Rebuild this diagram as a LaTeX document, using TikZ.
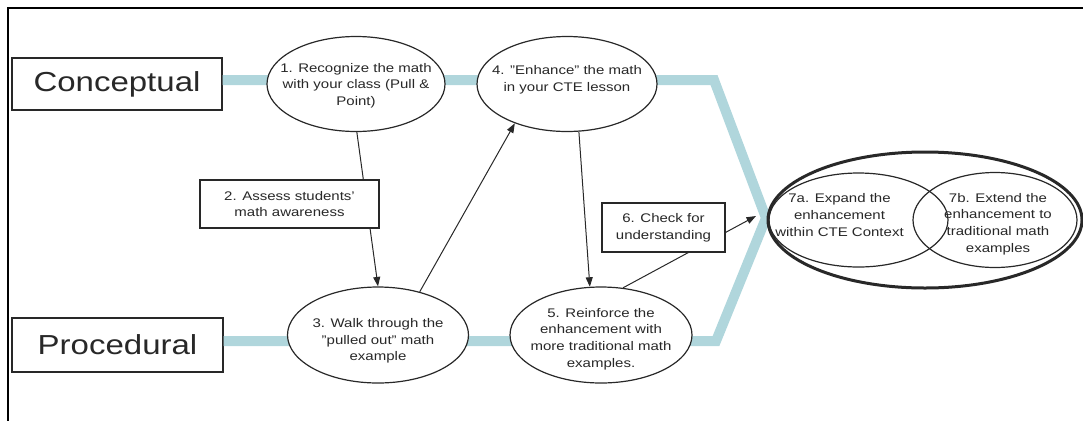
\documentclass[tikz,border=0pt]{standalone}
\usepackage{fontspec}
\setmainfont{Liberation Sans}[FakeStretch=1.2]
\usetikzlibrary{shapes.geometric,arrows.meta}
\definecolor{band}{RGB}{176,214,220}
\definecolor{ink}{RGB}{40,40,40}
\begin{document}
\begin{tikzpicture}[x=1pt,y=-1pt,
  txt/.style={font=\fontsize{12.5}{16.7}\selectfont, align=center, text=ink},
  oval/.style={ellipse, draw=ink, line width=1.2pt, fill=white, inner sep=0pt},
  ring/.style={ellipse, draw=ink, line width=1.2pt, inner sep=0pt},
  box/.style={rectangle, draw=ink, line width=1.2pt, fill=white, inner sep=0pt, txt},
  bigbox/.style={rectangle, draw=ink, line width=1.3pt, fill=white, inner sep=0pt, font=\fontsize{27.5}{30}\selectfont, text=ink},
  arr/.style={draw=ink, line width=1pt, -{Triangle[length=9.5pt,width=7pt]}},
  bandline/.style={draw=band, line width=10pt, line join=miter}
]
\useasboundingbox (0,0) rectangle (1083,421);
\draw[line width=2pt] (1083,8) -- (8,8) -- (8,421);

\node[bigbox, minimum width=210pt, minimum height=52pt] (concept) at (117,84) {Conceptual};
\node[bigbox, minimum width=211pt, minimum height=54pt] (proc) at (117.5,345) {Procedural};

\coordinate (c1) at (714,80);
\coordinate (apex) at (766,218);
\coordinate (c2) at (716,341);
\draw[bandline] (concept.east |- c1) -- (c1) -- (apex) -- (c2) -- (proc.east |- c2);

\node[oval, minimum width=178pt, minimum height=95pt,
  label={[txt,yshift=-1.5pt]center:{1. Recognize the math\\with your class (Pull \&\\Point)}}] (e1) at (356,84) {};
\node[oval, minimum width=180pt, minimum height=95pt,
  label={[txt,yshift=4pt]center:{4. "Enhance" the math\\in your CTE lesson}}] (e4) at (567,84) {};
\node[oval, minimum width=181pt, minimum height=96pt,
  label={[txt,yshift=-6pt]center:{3. Walk through the\\"pulled out" math\\example}}] (e3) at (378,335) {};
\node[oval, minimum width=182pt, minimum height=96pt,
  label={[txt,yshift=-4pt]center:{5. Reinforce the\\enhancement with\\more traditional math\\examples.}}] (e5) at (601,335) {};

\node[oval, line width=3pt, minimum width=314pt, minimum height=136pt] (e7) at (925,220) {};
\node[ring, minimum width=179pt, minimum height=94pt,
  label={[txt,xshift=-19pt,yshift=5pt]center:{7a. Expand the\\enhancement\\within CTE Context}}] (e7a) at (858.5,220) {};
\node[ring, minimum width=164pt, minimum height=95pt,
  label={[txt,xshift=3pt,yshift=-4pt]center:{7b. Extend the\\enhancement to\\traditional math\\examples}}] (e7b) at (995,220) {};

\coordinate (t7) at (756,216);
\draw[arr] (e1.-89) -- (e3.90);
\draw[arr] (e3.46) -- (e4.217);
\draw[arr] (e4.-76) -- (e5.103);
\draw[arr] (e5.65) -- (t7);

\node[box, minimum width=179pt, minimum height=48pt] (b2) at (289.5,204) {2. Assess students'\\math awareness};
\node[box, minimum width=123pt, minimum height=49pt] (b6) at (663.5,227.5) {6. Check for\\understanding};
\end{tikzpicture}
\end{document}
